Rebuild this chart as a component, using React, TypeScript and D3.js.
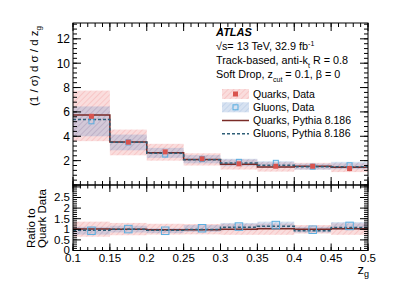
import React, { useRef, useEffect } from "react"
import * as d3 from "d3"

// bin edges in z_g
const binEdges = [0.1, 0.15, 0.2, 0.25, 0.3, 0.35, 0.4, 0.45, 0.5]

// main panel
const quarkMC = [5.75, 3.54, 2.64, 2.09, 1.7, 1.48, 1.54, 1.45]
const gluonMC = [5.37, 3.5, 2.6, 2.07, 1.8, 1.62, 1.49, 1.5]
const quarkData = [5.64, 3.52, 2.72, 2.15, 1.74, 1.54, 1.54, 1.35]
const quarkLo = [3.6, 2.44, 2.0, 1.6, 1.27, 1.1, 1.27, 1.06]
const quarkHi = [7.75, 4.55, 3.38, 2.6, 2.09, 1.87, 1.82, 1.78]
const gluonData = [5.23, 3.5, 2.5, 2.13, 1.9, 1.82, 1.5, 1.62]
const gluonLo = [4.0, 2.85, 2.23, 1.78, 1.54, 1.41, 1.26, 1.3]
const gluonHi = [6.45, 4.14, 3.05, 2.45, 2.15, 1.95, 1.75, 1.9]

// ratio panel (to quark data)
const quarkMCRatio = [1.01, 1.0, 0.98, 0.98, 1.0, 1.03, 1.0, 1.03]
const gluonMCRatio = [0.96, 1.0, 0.95, 0.99, 1.1, 1.14, 0.93, 1.09]
const quarkBandLo = [0.65, 0.72, 0.75, 0.76, 0.74, 0.74, 0.8, 0.74]
const quarkBandHi = [1.36, 1.3, 1.26, 1.25, 1.26, 1.27, 1.2, 1.28]
const gluonDataRatio = [0.93, 1.01, 0.93, 1.05, 1.13, 1.2, 0.98, 1.16]
const gluonBandLo = [0.75, 0.85, 0.82, 0.88, 0.95, 1.03, 0.85, 0.98]
const gluonBandHi = [1.12, 1.17, 1.05, 1.2, 1.3, 1.36, 1.12, 1.34]

const topTicks = ["2", "4", "6", "8", "10", "12"]
const ratioTicks = ["0", "0.5", "1", "1.5", "2", "2.5"]
const xTicks = ["0.1", "0.15", "0.2", "0.25", "0.3", "0.35", "0.4", "0.45", "0.5"]

const legendLabels = ["Quarks, Data", "Gluons, Data", "Quarks, Pythia 8.186", "Gluons, Pythia 8.186"]

const FONT = "'Liberation Sans', Arial, Helvetica, sans-serif"
const quarkLineColor = "#7a2b27"
const gluonLineColor = "#2f5f78"
const quarkMarker = "#d9544f"
const gluonMarker = "#5aaee0"

export default function App() {
  const svgRef = useRef<SVGSVGElement>(null)

  useEffect(() => {
    if (svgRef.current != null) {
      drawChart(d3.select(svgRef.current))
    }
  }, [])

  return (
    <svg
      ref={svgRef}
      width={399}
      height={286}
      style={{ position: "absolute", left: 0, top: 0, background: "#fff" }}
    />
  )
}

function drawChart(svg) {
  svg.selectAll("*").remove()
  const left = 73
  const right = 368
  const top = 23
  const mid = 185
  const bottom = 250.5

  const x = d3.scaleLinear().domain([0.1, 0.5]).range([left, right])
  const yTop = d3.scaleLinear().domain([0, 13.3]).range([mid, top])
  const yRat = d3.scaleLinear().domain([0, 3.09]).range([bottom, mid])

  const defs = svg.append("defs")
  hatch(defs, "qHatch", "rgba(240,150,150,0.32)", "rgba(232,120,120,0.4)")
  hatch(defs, "gHatch", "rgba(110,150,205,0.28)", "rgba(100,140,200,0.28)")
  defs.append("clipPath").attr("id", "clipTop")
    .append("rect").attr("x", left).attr("y", top).attr("width", right - left).attr("height", mid - top)
  defs.append("clipPath").attr("id", "clipRat")
    .append("rect").attr("x", left).attr("y", mid).attr("width", right - left).attr("height", bottom - mid)

  const bins = d3.range(quarkMC.length)

  function bands(g, y, lo, hi, fill) {
    g.append("g").selectAll("rect").data(bins).join("rect")
      .attr("x", i => x(binEdges[i]))
      .attr("width", i => x(binEdges[i + 1]) - x(binEdges[i]))
      .attr("y", i => y(hi[i]))
      .attr("height", i => y(lo[i]) - y(hi[i]))
      .attr("fill", fill)
  }

  function stepPath(y, vals) {
    return d3.line<number>()
      .x(d => x(d))
      .y((d, i) => y(vals[Math.min(i, vals.length - 1)]))
      .curve(d3.curveStepAfter)(binEdges)
  }

  function squares(g, y, vals, size, filled) {
    g.append("g").selectAll("rect").data(bins).join("rect")
      .attr("x", i => x((binEdges[i] + binEdges[i + 1]) / 2) - size / 2)
      .attr("y", i => y(vals[i]) - size / 2)
      .attr("width", size)
      .attr("height", size)
      .attr("fill", filled ? quarkMarker : "none")
      .attr("stroke", filled ? "none" : gluonMarker)
      .attr("stroke-width", 1)
  }

  // ---- top panel
  const gTop = svg.append("g").attr("clip-path", "url(#clipTop)")
  bands(gTop, yTop, quarkLo, quarkHi, "url(#qHatch)")
  bands(gTop, yTop, gluonLo, gluonHi, "url(#gHatch)")
  gTop.append("path").attr("d", stepPath(yTop, quarkMC))
    .attr("fill", "none").attr("stroke", quarkLineColor).attr("stroke-width", 1.5)
  gTop.append("path").attr("d", stepPath(yTop, gluonMC))
    .attr("fill", "none").attr("stroke", gluonLineColor).attr("stroke-width", 1.5)
    .attr("stroke-dasharray", "3,2")
  squares(gTop, yTop, gluonData, 5, false)
  squares(gTop, yTop, quarkData, 5, true)

  // ---- ratio panel
  const gRat = svg.append("g").attr("clip-path", "url(#clipRat)")
  bands(gRat, yRat, quarkBandLo, quarkBandHi, "url(#qHatch)")
  bands(gRat, yRat, gluonBandLo, gluonBandHi, "url(#gHatch)")
  gRat.append("path").attr("d", stepPath(yRat, quarkMCRatio))
    .attr("fill", "none").attr("stroke", quarkLineColor).attr("stroke-width", 1.5)
  gRat.append("path").attr("d", stepPath(yRat, gluonMCRatio))
    .attr("fill", "none").attr("stroke", gluonLineColor).attr("stroke-width", 1.5)
    .attr("stroke-dasharray", "3,2")
  squares(gRat, yRat, gluonDataRatio, 7.5, false)

  // ---- frames
  svg.append("rect").attr("x", left).attr("y", top).attr("width", right - left).attr("height", mid - top)
    .attr("fill", "none").attr("stroke", "#000").attr("stroke-width", 1)
  svg.append("rect").attr("x", left).attr("y", mid).attr("width", right - left).attr("height", bottom - mid)
    .attr("fill", "none").attr("stroke", "#000").attr("stroke-width", 1)

  // ---- ticks
  const ticks = svg.append("g").attr("stroke", "#000").attr("stroke-width", 1)
  const xMajor = d3.range(0, 9).map(i => 0.1 + i * 0.05)
  const xMinor = d3.range(0, 41).map(i => 0.1 + i * 0.01)
  const topMajor = d3.range(0, 7).map(i => i * 2)
  const topMinor = d3.range(0, 34).map(i => i * 0.4)
  const ratMajor = d3.range(0, 7).map(i => i * 0.5)
  const ratMinor = d3.range(0, 31).map(i => i * 0.1)

  function vTicks(vals, y0, len) {
    ticks.append("g").selectAll("line").data(vals).join("line")
      .attr("x1", d => x(d)).attr("x2", d => x(d))
      .attr("y1", y0).attr("y2", y0 + len)
  }
  function hTicks(scale, vals, x0, len) {
    ticks.append("g").selectAll("line").data(vals.filter(v => scale(v) >= scale.range()[1] - 0.5)).join("line")
      .attr("x1", x0).attr("x2", x0 + len)
      .attr("y1", d => scale(d)).attr("y2", d => scale(d))
  }
  // top panel
  vTicks(xMajor, top, 8); vTicks(xMinor, top, 4)
  vTicks(xMajor, mid, -8); vTicks(xMinor, mid, -4)
  hTicks(yTop, topMajor, left, 8); hTicks(yTop, topMinor, left, 4)
  hTicks(yTop, topMajor, right, -8); hTicks(yTop, topMinor, right, -4)
  // ratio panel
  vTicks(xMajor, mid, 7); vTicks(xMinor, mid, 3.5)
  vTicks(xMajor, bottom, -7); vTicks(xMinor, bottom, -3.5)
  hTicks(yRat, ratMajor, left, 8); hTicks(yRat, ratMinor, left, 4)
  hTicks(yRat, ratMajor, right, -8); hTicks(yRat, ratMinor, right, -4)

  // ---- tick labels
  const labels = svg.append("g").attr("font-family", FONT).attr("font-size", 11.5).attr("fill", "#000")
  labels.selectAll("text.yt").data(topTicks).join("text")
    .attr("class", "yt").attr("font-size", 12)
    .attr("x", left - 3).attr("y", d => yTop(+d)).attr("dy", "0.36em")
    .attr("text-anchor", "end").text(d => d)
  labels.selectAll("text.yr").data(ratioTicks).join("text")
    .attr("class", "yr")
    .attr("x", left - 3).attr("y", d => yRat(+d)).attr("dy", "0.34em")
    .attr("text-anchor", "end").text(d => d)
  labels.selectAll("text.xt").data(xTicks).join("text")
    .attr("class", "xt")
    .attr("x", d => x(+d)).attr("y", 262)
    .attr("text-anchor", "middle").text(d => d)

  // ---- axis titles
  const yTitle = svg.append("text").attr("font-family", FONT).attr("font-size", 11.5)
    .attr("text-anchor", "end").attr("transform", "translate(38,26) rotate(-90)")
  yTitle.append("tspan").text("(1 / σ) d σ / d z")
  yTitle.append("tspan").attr("font-size", 8).attr("dy", 3).text("g")

  svg.append("text").attr("font-family", FONT).attr("font-size", 11.5)
    .attr("transform", "translate(34.5,248) rotate(-90)").text("Ratio to")
  svg.append("text").attr("font-family", FONT).attr("font-size", 11.5)
    .attr("transform", "translate(45.5,248) rotate(-90)").text("Quark Data")

  const xTitle = svg.append("text").attr("font-family", FONT).attr("font-size", 13)
    .attr("text-anchor", "end").attr("x", 369).attr("y", 274)
  xTitle.append("tspan").text("z")
  xTitle.append("tspan").attr("font-size", 9).attr("dy", 3).text("g")

  // ---- ATLAS text block
  const info = svg.append("g").attr("font-family", FONT).attr("font-size", 10.8)
  info.append("text").attr("x", 216).attr("y", 36).attr("font-weight", "bold").attr("font-style", "italic")
    .attr("font-size", 11).text("ATLAS")
  const l1 = info.append("text").attr("x", 216).attr("y", 50)
  l1.append("tspan").text("√s= 13 TeV, 32.9 fb")
  l1.append("tspan").attr("font-size", 7).attr("dy", -4).text("-1")
  const l2 = info.append("text").attr("x", 216).attr("y", 64)
  l2.append("tspan").text("Track-based, anti-k")
  l2.append("tspan").attr("font-size", 7).attr("dy", 4).text("t")
  l2.append("tspan").attr("dy", -4).text(" R = 0.8")
  const l3 = info.append("text").attr("x", 216).attr("y", 78)
  l3.append("tspan").text("Soft Drop, z")
  l3.append("tspan").attr("font-size", 7).attr("dy", 4).text("cut")
  l3.append("tspan").attr("dy", -4).text(" = 0.1, β = 0")

  // ---- legend
  const legend = svg.append("g").attr("font-family", FONT).attr("font-size", 10.5)
  const rowY = [94, 107.3, 120.5, 133.7]
  legend.append("rect").attr("x", 222).attr("y", rowY[0] - 5).attr("width", 27).attr("height", 10).attr("fill", "url(#qHatch)")
  legend.append("rect").attr("x", 233).attr("y", rowY[0] - 2.5).attr("width", 5).attr("height", 5).attr("fill", quarkMarker)
  legend.append("rect").attr("x", 222).attr("y", rowY[1] - 5).attr("width", 27).attr("height", 10).attr("fill", "url(#gHatch)")
  legend.append("rect").attr("x", 233).attr("y", rowY[1] - 2.5).attr("width", 5).attr("height", 5)
    .attr("fill", "none").attr("stroke", gluonMarker)
  legend.append("line").attr("x1", 222).attr("x2", 249).attr("y1", rowY[2]).attr("y2", rowY[2])
    .attr("stroke", quarkLineColor).attr("stroke-width", 1.5)
  legend.append("line").attr("x1", 222).attr("x2", 249).attr("y1", rowY[3]).attr("y2", rowY[3])
    .attr("stroke", gluonLineColor).attr("stroke-width", 1.5).attr("stroke-dasharray", "3,2")
  legend.selectAll("text").data(legendLabels).join("text")
    .attr("x", 253).attr("y", (d, i) => rowY[i]).attr("dy", "0.36em").text(d => d)
}

function hatch(defs, id, bg, line) {
  const p = defs.append("pattern").attr("id", id).attr("patternUnits", "userSpaceOnUse")
    .attr("width", 4).attr("height", 4).attr("patternTransform", "rotate(45)")
  p.append("rect").attr("width", 4).attr("height", 4).attr("fill", bg)
  p.append("line").attr("x1", 0).attr("y1", 0).attr("x2", 0).attr("y2", 4)
    .attr("stroke", line).attr("stroke-width", 1.2)
}
